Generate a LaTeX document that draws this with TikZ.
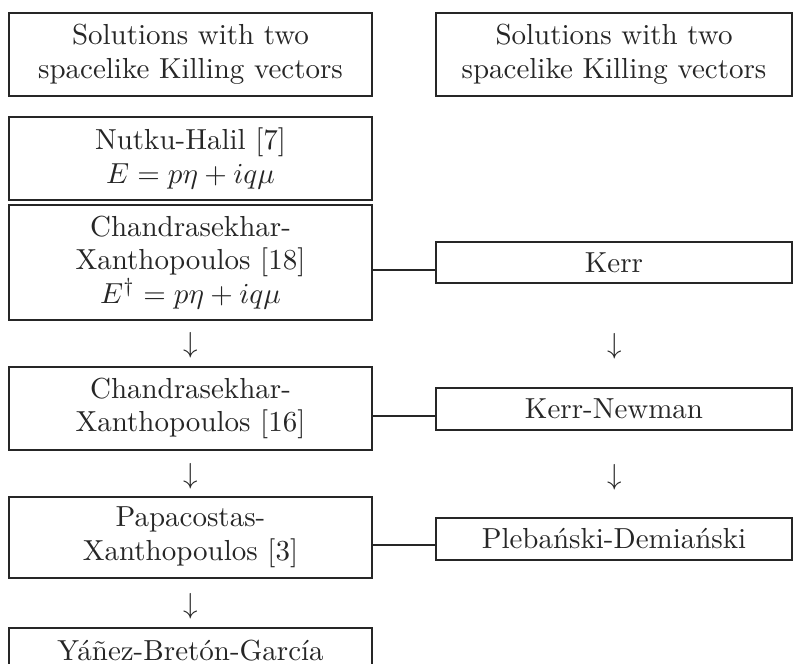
\documentclass[tikz,border=0pt]{standalone}
\begin{document}
\begin{tikzpicture}[x=0.345pt, y=-0.345pt,
		every node/.style={font=\fontsize{10}{11.6}\selectfont, text=black!85},
		sbox/.style={draw=black!85, line width=0.6pt, align=center, inner sep=0pt},
		lbox/.style={sbox, minimum width=125.2pt},
		rbox/.style={sbox, minimum width=122.8pt, minimum height=14.3pt},
		link/.style={draw=black!85, line width=0.6pt}]
			\useasboundingbox (0,0) rectangle (793,664);
			
			%left column
			\node[lbox, minimum height=28.6pt] (sol1) at (190.5,54.5){Solutions with two\\spacelike Killing vectors};
			\node[lbox, minimum height=28.6pt] (nh) at (190.5,158.5){Nutku-Halil [7]\\$E = p\eta + iq\mu$};
			\node[lbox, minimum height=39.7pt] (cx18) at (190.5,262.5){Chandrasekhar-\\Xanthopoulos [18]\\$E^{\dagger} = p\eta + iq\mu$};
			\node[lbox, minimum height=28.6pt] (cx16) at (190.5,408.5){Chandrasekhar-\\Xanthopoulos [16]};
			\node[lbox, minimum height=27.9pt] (px3) at (190.5,537.5){Papacostas-\\Xanthopoulos [3]};
			\node[lbox, anchor=north, inner ysep=4.5pt, text height=6.9pt, text depth=30pt] (ybg) at (190.5,627){Y\'a\~nez-Bret\'on-Garc\'ia};
			
			\node (a1) at (190.5,345.5){$\downarrow$};
			\node (a3) at (190.5,476.5){$\downarrow$};
			\node (a5) at (190.5,606.5){$\downarrow$};
			
			%right column
			\node[sbox, minimum width=122.8pt, minimum height=28.6pt] (sol2) at (614,54.5){Solutions with two\\spacelike Killing vectors};
			\node[rbox] (kerr) at (614,262.5){Kerr};
			\node[rbox] (kn) at (614,409){Kerr-Newman};
			\node[rbox] (pd) at (614,539){Pleba\'nski-Demia\'nski};
			
			\node (a2) at (615,346){$\downarrow$};
			\node (a4) at (615,477){$\downarrow$};
			
			%links between the columns
			\draw[link] ([yshift=-2.6pt]kerr.west) -- ([yshift=-2.6pt]kerr.west -| cx18.east);
			\draw[link] ([yshift=-2.4pt]kn.west) -- ([yshift=-2.4pt]kn.west -| cx16.east);
			\draw[link] ([yshift=-2.1pt]pd.west) -- ([yshift=-2.1pt]pd.west -| px3.east);
		\end{tikzpicture}
\end{document}
